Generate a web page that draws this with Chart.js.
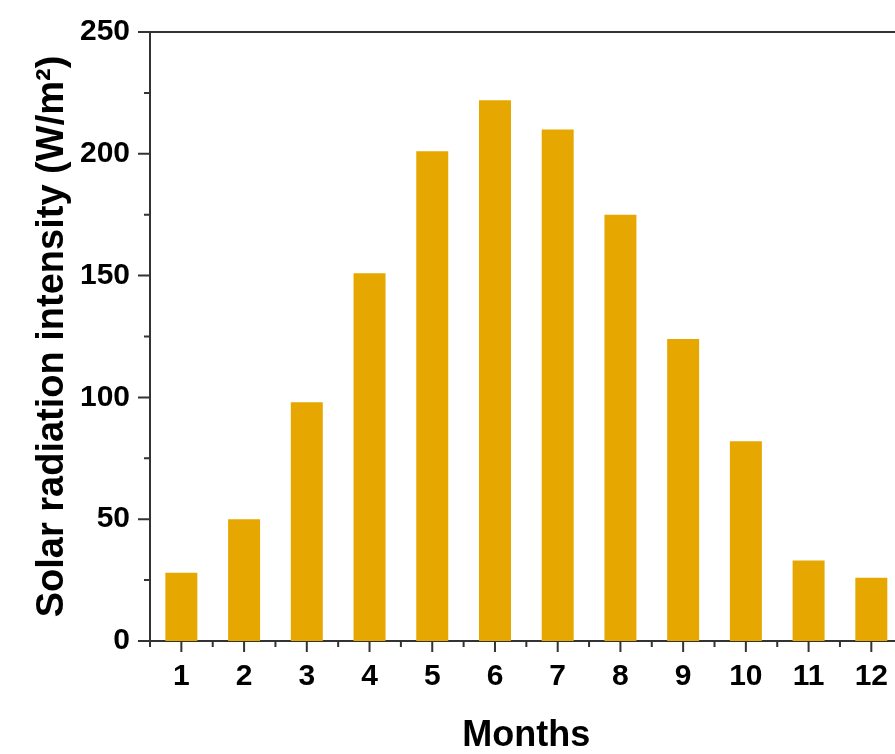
<!DOCTYPE html>
<html>
<head>
<meta charset="utf-8">
<script src="https://cdn.jsdelivr.net/npm/chart.js@4.4.1/dist/chart.umd.min.js"></script>
<style>
    html, body { margin: 0; padding: 0; background: #fff; overflow: hidden; }
    canvas { display: block; }
</style>
</head>
<body>
<canvas id="solarChart" width="906" height="754"></canvas>
<script>
const months = ["1", "2", "3", "4", "5", "6", "7", "8", "9", "10", "11", "12"];
const radiation = [28, 50, 98, 151, 201, 222, 210, 175, 124, 82, 33, 26];
const yTicks = [0, 50, 100, 150, 200, 250];
const yMinorTicks = [25, 75, 125, 175, 225];

const axisColor = "#333333";
const fontFamily = "'Liberation Sans', Arial, sans-serif";

// tick marks + top/right frame
const frameTicks = {
    id: "frameTicks",
    afterDraw(chart) {
        const ctx = chart.ctx;
        const area = chart.chartArea;
        const x = chart.scales.x;
        const y = chart.scales.y;
        ctx.save();
        ctx.strokeStyle = axisColor;
        ctx.lineWidth = 2;
        ctx.beginPath();
        ctx.moveTo(area.left, area.top);
        ctx.lineTo(area.right, area.top);
        ctx.lineTo(area.right, area.bottom);
        yTicks.forEach(v => {
            const py = y.getPixelForValue(v);
            ctx.moveTo(area.left - 12, py);
            ctx.lineTo(area.left, py);
        });
        yMinorTicks.forEach(v => {
            const py = y.getPixelForValue(v);
            ctx.moveTo(area.left - 6, py);
            ctx.lineTo(area.left, py);
        });
        months.forEach((m, i) => {
            const px = x.getPixelForValue(i);
            ctx.moveTo(px, area.bottom);
            ctx.lineTo(px, area.bottom + 11);
            const mx = x.getPixelForValue(i - 0.5);
            ctx.moveTo(mx, area.bottom);
            ctx.lineTo(mx, area.bottom + 6);
        });
        ctx.stroke();
        ctx.restore();
    }
};

new Chart(document.getElementById("solarChart"), {
    type: "bar",
    data: {
        labels: months,
        datasets: [{
            data: radiation,
            backgroundColor: "#E6A800",
            borderWidth: 0,
            categoryPercentage: 1,
            barPercentage: 0.51
        }]
    },
    options: {
        responsive: false,
        animation: false,
        layout: { padding: { top: 32, right: 0, left: 0, bottom: 0 } },
        plugins: {
            legend: { display: false },
            tooltip: { enabled: false }
        },
        scales: {
            x: {
                offset: true,
                grid: { display: false, drawTicks: false },
                border: { display: true, color: axisColor, width: 2 },
                ticks: {
                    color: "#000",
                    font: { family: fontFamily, size: 30, weight: "bold" },
                    padding: 18,
                    maxRotation: 0,
                    autoSkip: false
                },
                title: {
                    display: true,
                    text: "Months",
                    color: "#000",
                    font: { family: fontFamily, size: 36, weight: "bold" },
                    padding: { top: 0, bottom: -4 }
                },
                afterFit(scale) { scale.height = 113; }
            },
            y: {
                min: 0,
                max: 250,
                grid: { display: false, drawTicks: false },
                border: { display: true, color: axisColor, width: 2 },
                ticks: {
                    stepSize: 50,
                    color: "#000",
                    font: { family: fontFamily, size: 30, weight: "bold" },
                    padding: 20
                },
                title: {
                    display: true,
                    text: "Solar radiation intensity (W/m²)",
                    color: "#000",
                    font: { family: fontFamily, size: 38, weight: "bold" },
                    padding: { top: 30, bottom: 0 }
                },
                afterFit(scale) {
                    scale.width = 150;
                    scale.paddingTop = 0;
                    scale.paddingBottom = 0;
                }
            }
        }
    },
    plugins: [frameTicks]
});
</script>
</body>
</html>
